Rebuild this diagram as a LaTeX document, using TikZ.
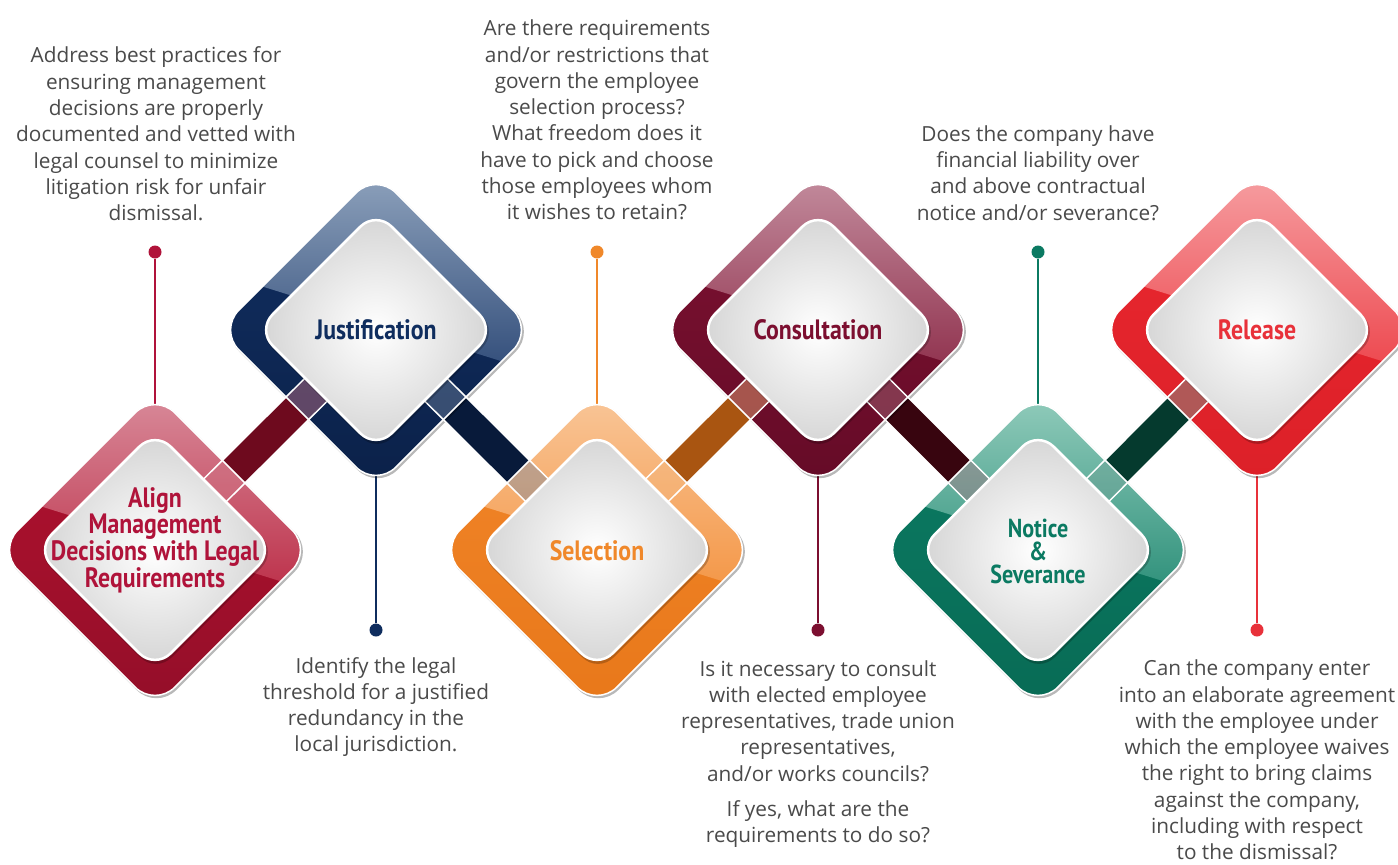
\documentclass[tikz,border=0pt]{standalone}
\usepackage{fontspec}
\usetikzlibrary{calc}
\newfontfamily\bodyfont{Open Sans}
\newfontfamily\lblfont[FakeStretch=0.85]{PT Sans}

% palette: light gloss / base / dark / label text / connector colours
\definecolor{bodygray}{HTML}{4A4A4A}
\definecolor{aL}{HTML}{D98C9B}\definecolor{aB}{HTML}{B3122F}\definecolor{aD}{HTML}{940E29}\definecolor{aT}{HTML}{B0133A}
\definecolor{jL}{HTML}{8FA3BD}\definecolor{jB}{HTML}{123063}\definecolor{jD}{HTML}{0B2149}\definecolor{jT}{HTML}{0F2D5E}
\definecolor{sL}{HTML}{F9C79A}\definecolor{sB}{HTML}{F2862A}\definecolor{sD}{HTML}{E8781A}\definecolor{sT}{HTML}{F0882A}
\definecolor{cL}{HTML}{C48E9F}\definecolor{cB}{HTML}{7E1232}\definecolor{cD}{HTML}{650B27}\definecolor{cT}{HTML}{7C0F30}
\definecolor{nL}{HTML}{94CDBD}\definecolor{nB}{HTML}{0C7C64}\definecolor{nD}{HTML}{086B55}\definecolor{nT}{HTML}{0B7A62}
\definecolor{rL}{HTML}{F6A0A3}\definecolor{rB}{HTML}{EA2830}\definecolor{rD}{HTML}{DC2028}\definecolor{rT}{HTML}{E8313A}
\definecolor{abarB}{HTML}{B0142F}\definecolor{abarD}{HTML}{6E0A1E}
\definecolor{jbarB}{HTML}{10305F}\definecolor{jbarD}{HTML}{081A3A}
\definecolor{sbarB}{HTML}{EE8420}\definecolor{sbarD}{HTML}{A95511}
\definecolor{cbarB}{HTML}{640C26}\definecolor{cbarD}{HTML}{38050F}
\definecolor{nbarB}{HTML}{0B5E4B}\definecolor{nbarD}{HTML}{053A2E}

% rounded diamond centred at (#1,#2) with half diagonal #3
\newcommand\diamondpath[3]{({#1+#3/2},{#2-#3/2}) -- ({#1+#3},{#2}) -- ({#1},{#2+#3}) -- ({#1-#3},{#2}) -- ({#1},{#2-#3}) -- cycle}
% straight band between two named centres
\newcommand\barpath[2]{($(#1)!16pt!90:(#2)$) -- ($(#2)!16pt!-90:(#1)$) -- ($(#2)!16pt!90:(#1)$) -- ($(#1)!16pt!-90:(#2)$) -- cycle}

\begin{document}
\begin{tikzpicture}[x=1pt,y=-1pt,
  body/.style={font=\bodyfont\fontsize{20.8}{26.3}\selectfont, text=bodygray, align=center, inner sep=0pt},
  lbl/.style={font=\lblfont\bfseries\fontsize{28}{25}\selectfont, align=center, inner sep=0pt},
  pin/.style={line width=2pt},
  pindot/.style={circle, inner sep=0pt, minimum size=13pt},
  outerd/.style={rounded corners=28pt},
  innerd/.style={rounded corners=22pt},
  edge/.style={draw=white, line width=1.5pt},
  glass/.style={fill opacity=.3},
  sheen/.style={fill=white, fill opacity=.18},
]
\useasboundingbox (0,0) rectangle (1398,865);
\fill[white] (0,0) rectangle (1398,865);

% centres of the six stages
\coordinate (cA) at (155,550);
\coordinate (cJ) at (376,330);
\coordinate (cS) at (597,550);
\coordinate (cC) at (818,330);
\coordinate (cN) at (1038,550);
\coordinate (cR) at (1257,330);

% pins with end dots
\node[pindot, fill=aT] (dA) at (155,252) {};
\node[pindot, fill=jT] (dJ) at (376,630) {};
\node[pindot, fill=sT] (dS) at (597,252) {};
\node[pindot, fill=cT] (dC) at (818,630) {};
\node[pindot, fill=nT] (dN) at (1038,252) {};
\node[pindot, fill=rT] (dR) at (1257,630) {};
\draw[pin, aT] (dA) -- (cA);
\draw[pin, jT] (dJ) -- (cJ);
\draw[pin, sT] (dS) -- (cS);
\draw[pin, cT] (dC) -- (cC);
\draw[pin, nT] (dN) -- (cN);
\draw[pin, rT] (dR) -- (cR);

% solid connecting bands
\shade[left color=abarD, middle color=abarB, right color=abarD, shading angle=45] \barpath{cA}{cJ};
\shade[left color=jbarD, middle color=jbarB, right color=jbarD, shading angle=-45] \barpath{cJ}{cS};
\shade[left color=sbarD, middle color=sbarB, right color=sbarD, shading angle=45] \barpath{cS}{cC};
\shade[left color=cbarD, middle color=cbarB, right color=cbarD, shading angle=-45] \barpath{cC}{cN};
\shade[left color=nbarD, middle color=nbarB, right color=nbarD, shading angle=45] \barpath{cN}{cR};

% outer frames
\foreach \cx/\cy/\L/\B/\D in {155/550/aL/aB/aD, 376/330/jL/jB/jD, 597/550/sL/sB/sD,
                              818/330/cL/cB/cD, 1038/550/nL/nB/nD, 1257/330/rL/rB/rD}{
  \fill[black, opacity=.28, outerd] \diamondpath{\cx+1.5}{\cy+1.8}{158};
  \shade[outerd, top color=\B, bottom color=\D] \diamondpath{\cx}{\cy}{157};
  \begin{scope}
    \clip[outerd] \diamondpath{\cx}{\cy}{157};
    \shade[top color=\L, bottom color=\B!75!\L]
      ({\cx-160},{\cy-160}) -- ({\cx+160},{\cy-160}) -- ({\cx+160},{\cy+42}) -- ({\cx-160},{\cy-58}) -- cycle;
  \end{scope}
}

% bands seen through the frames
\begin{scope}
  \clip[outerd] \diamondpath{155}{550}{157} \diamondpath{376}{330}{157};
  \fill[abarB, glass] \barpath{cA}{cJ};
  \fill[sheen] \barpath{cA}{cJ};
\end{scope}
\begin{scope}
  \clip[outerd] \diamondpath{376}{330}{157} \diamondpath{597}{550}{157};
  \fill[jbarB, glass] \barpath{cJ}{cS};
  \fill[sheen] \barpath{cJ}{cS};
\end{scope}
\begin{scope}
  \clip[outerd] \diamondpath{597}{550}{157} \diamondpath{818}{330}{157};
  \fill[sbarB, glass] \barpath{cS}{cC};
  \fill[sheen] \barpath{cS}{cC};
\end{scope}
\begin{scope}
  \clip[outerd] \diamondpath{818}{330}{157} \diamondpath{1038}{550}{157};
  \fill[cbarB, glass] \barpath{cC}{cN};
  \fill[sheen] \barpath{cC}{cN};
\end{scope}
\begin{scope}
  \clip[outerd] \diamondpath{1038}{550}{157} \diamondpath{1257}{330}{157};
  \fill[nbarB, glass] \barpath{cN}{cR};
  \fill[sheen] \barpath{cN}{cR};
\end{scope}
\path[edge] \barpath{cA}{cJ};
\path[edge] \barpath{cJ}{cS};
\path[edge] \barpath{cS}{cC};
\path[edge] \barpath{cC}{cN};
\path[edge] \barpath{cN}{cR};

% frame rims, inner plates
\foreach \cx/\cy in {155/550, 376/330, 597/550, 818/330, 1038/550, 1257/330}{
  \path[edge, outerd] \diamondpath{\cx}{\cy}{157};
  \fill[black, opacity=.22, innerd] \diamondpath{\cx+1}{\cy+2}{121};
  \shadedraw[innerd, inner color=white, outer color=black!17, draw=white, line width=2.5pt] \diamondpath{\cx}{\cy}{119};
}

% stage titles
\node[lbl, text=aT] (lA) at (155,540) {Align\\Management\\Decisions with Legal\\Requirements};
\node[lbl, text=jT] (lJ) at (376,330) {Justification};
\node[lbl, text=sT] (lS) at (597,551) {Selection};
\node[lbl, text=cT] (lC) at (818,330) {Consultation};
\node[lbl, text=nT, font=\lblfont\bfseries\fontsize{26}{23}\selectfont] (lN) at (1038,551) {Notice\\\&\\Severance};
\node[lbl, text=rT] (lR) at (1257,330) {Release};

% descriptions
\node[body] (tA) at (156,134) {Address best practices for\\ensuring management\\decisions are properly\\documented and vetted with\\legal counsel to minimize\\litigation risk for unfair\\dismissal.};
\node[body] (tJ) at (376,707) {Identify the legal\\threshold for a justified\\redundancy in the\\local jurisdiction.};
\node[body] (tS) at (597,120) {Are there requirements\\and/or restrictions that\\govern the employee\\selection process?\\What freedom does it\\have to pick and choose\\those employees whom\\it wishes to retain?};
\node[body] (tC) at (818,754) {Is it necessary to consult\\with elected employee\\representatives, trade union\\representatives,\\and/or works councils?\\[9pt]If yes, what are the\\requirements to do so?};
\node[body] (tN) at (1038,173) {Does the company have\\financial liability over\\and above contractual\\notice and/or severance?};
\node[body] (tR) at (1257,760) {Can the company enter\\into an elaborate agreement\\with the employee under\\which the employee waives\\the right to bring claims\\against the company,\\including with respect\\to the dismissal?};
\end{tikzpicture}
\end{document}
